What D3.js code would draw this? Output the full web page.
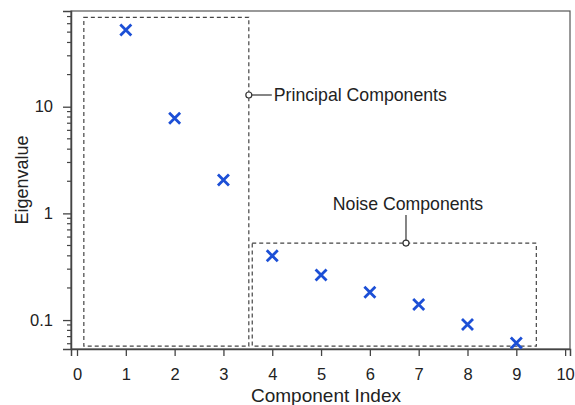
<!DOCTYPE html>
<html><head><meta charset="utf-8">
<script src="https://cdn.jsdelivr.net/npm/d3@7"></script>
<style>body{margin:0;background:#fff}svg{display:block}text{font-family:"Liberation Sans",Arial,sans-serif;fill:#222}</style>
</head><body><svg id="c" width="575" height="405"></svg>
<script>
const componentIndex = [1,2,3,4,5,6,7,8,9];
const eigenvalues = [52.4,7.8,2.06,0.40,0.264,0.182,0.140,0.091,0.061];
const xTicks = [0,1,2,3,4,5,6,7,8,9,10];
const yTickValues = [0.1,1,10];
const yTickLabels = ["0.1","1","10"];
const principalBox = {x0:0.14, x1:3.52, y0:0.0569, y1:68.9};
const noiseBox = {x0:3.59, x1:9.41, y0:0.0569, y1:0.527};
const annotations = ["Principal Components","Noise Components"];

const svg = d3.select("#c");
const L=71, R=570, T=11, B=349;
const x = d3.scaleLinear().domain([-0.123,10.1]).range([L,R]);
const y = d3.scaleLog().domain([0.05355,78.9]).range([B,T]);

// frame
svg.append("rect").attr("x",L).attr("y",T).attr("width",R-L).attr("height",B-T)
  .attr("fill","none").attr("stroke","#555").attr("stroke-width",1.2);

// x axis
const xa = svg.append("g").attr("transform",`translate(0,${B})`)
  .call(d3.axisBottom(x).tickValues(xTicks).tickSize(7).tickPadding(12).tickFormat(d3.format("d")));
xa.select(".domain").attr("stroke","#444").attr("stroke-width",1.5);
xa.selectAll(".tick line").attr("stroke","#444").attr("stroke-width",1.3);
xa.selectAll("text").attr("font-size",16.5).attr("fill","#222");

// y axis major
const ya = svg.append("g").attr("transform",`translate(${L},0)`)
  .call(d3.axisLeft(y).tickValues(yTickValues).tickSize(8).tickPadding(10).tickFormat((d,i)=>yTickLabels[i]));
ya.select(".domain").attr("stroke","#444").attr("stroke-width",1.5);
ya.selectAll(".tick line").attr("stroke","#444").attr("stroke-width",1.3);
ya.selectAll("text").attr("font-size",16.5).attr("fill","#222");
// y minor ticks
const minor = y.ticks().filter(v=>yTickValues.indexOf(v)<0 && v>=y.domain()[0] && v<=y.domain()[1]);
svg.append("g").selectAll("line").data(minor).join("line")
  .attr("x1",L-4).attr("x2",L).attr("y1",d=>y(d)).attr("y2",d=>y(d))
  .attr("stroke","#444").attr("stroke-width",1.2);

// axis titles
svg.append("text").attr("x",326).attr("y",402).attr("text-anchor","middle")
  .attr("font-size",19).text("Component Index");
svg.append("text").attr("transform",`translate(28,${(T+B)/2}) rotate(-90)`).attr("text-anchor","middle")
  .attr("font-size",18).text("Eigenvalue");

// dashed boxes
[principalBox,noiseBox].forEach(b=>{
  svg.append("rect").attr("x",x(b.x0)).attr("y",y(b.y1)).attr("width",x(b.x1)-x(b.x0))
    .attr("height",y(b.y0)-y(b.y1)).attr("fill","none").attr("stroke","#444")
    .attr("stroke-width",1.2).attr("stroke-dasharray","4,3");
});

// markers
const s=5.5;
const g = svg.append("g");
componentIndex.forEach((c,i)=>{
  const cx=x(c), cy=y(eigenvalues[i]);
  g.append("path").attr("d",`M${cx-s},${cy-s}L${cx+s},${cy+s}M${cx-s},${cy+s}L${cx+s},${cy-s}`)
   .attr("stroke","#1c4fd6").attr("stroke-width",2.8).attr("fill","none");
});

// annotation: principal
const pY = 95;
svg.append("line").attr("x1",x(principalBox.x1)+3).attr("x2",x(principalBox.x1)+23).attr("y1",pY).attr("y2",pY)
  .attr("stroke","#333").attr("stroke-width",1.2);
svg.append("circle").attr("cx",x(principalBox.x1)).attr("cy",pY).attr("r",3).attr("fill","#fff")
  .attr("stroke","#333").attr("stroke-width",1.2);
svg.append("text").attr("x",x(principalBox.x1)+25).attr("y",pY+6.2).attr("font-size",17.7).text(annotations[0]);

// annotation: noise
const nx = x(6.74), ny = y(noiseBox.y1);
svg.append("line").attr("x1",nx).attr("x2",nx).attr("y1",ny-3).attr("y2",215)
  .attr("stroke","#333").attr("stroke-width",1.2);
svg.append("circle").attr("cx",nx).attr("cy",ny).attr("r",3).attr("fill","#fff")
  .attr("stroke","#333").attr("stroke-width",1.2);
svg.append("text").attr("x",408).attr("y",210.3).attr("text-anchor","middle").attr("font-size",17.7).text(annotations[1]);
</script></body></html>
